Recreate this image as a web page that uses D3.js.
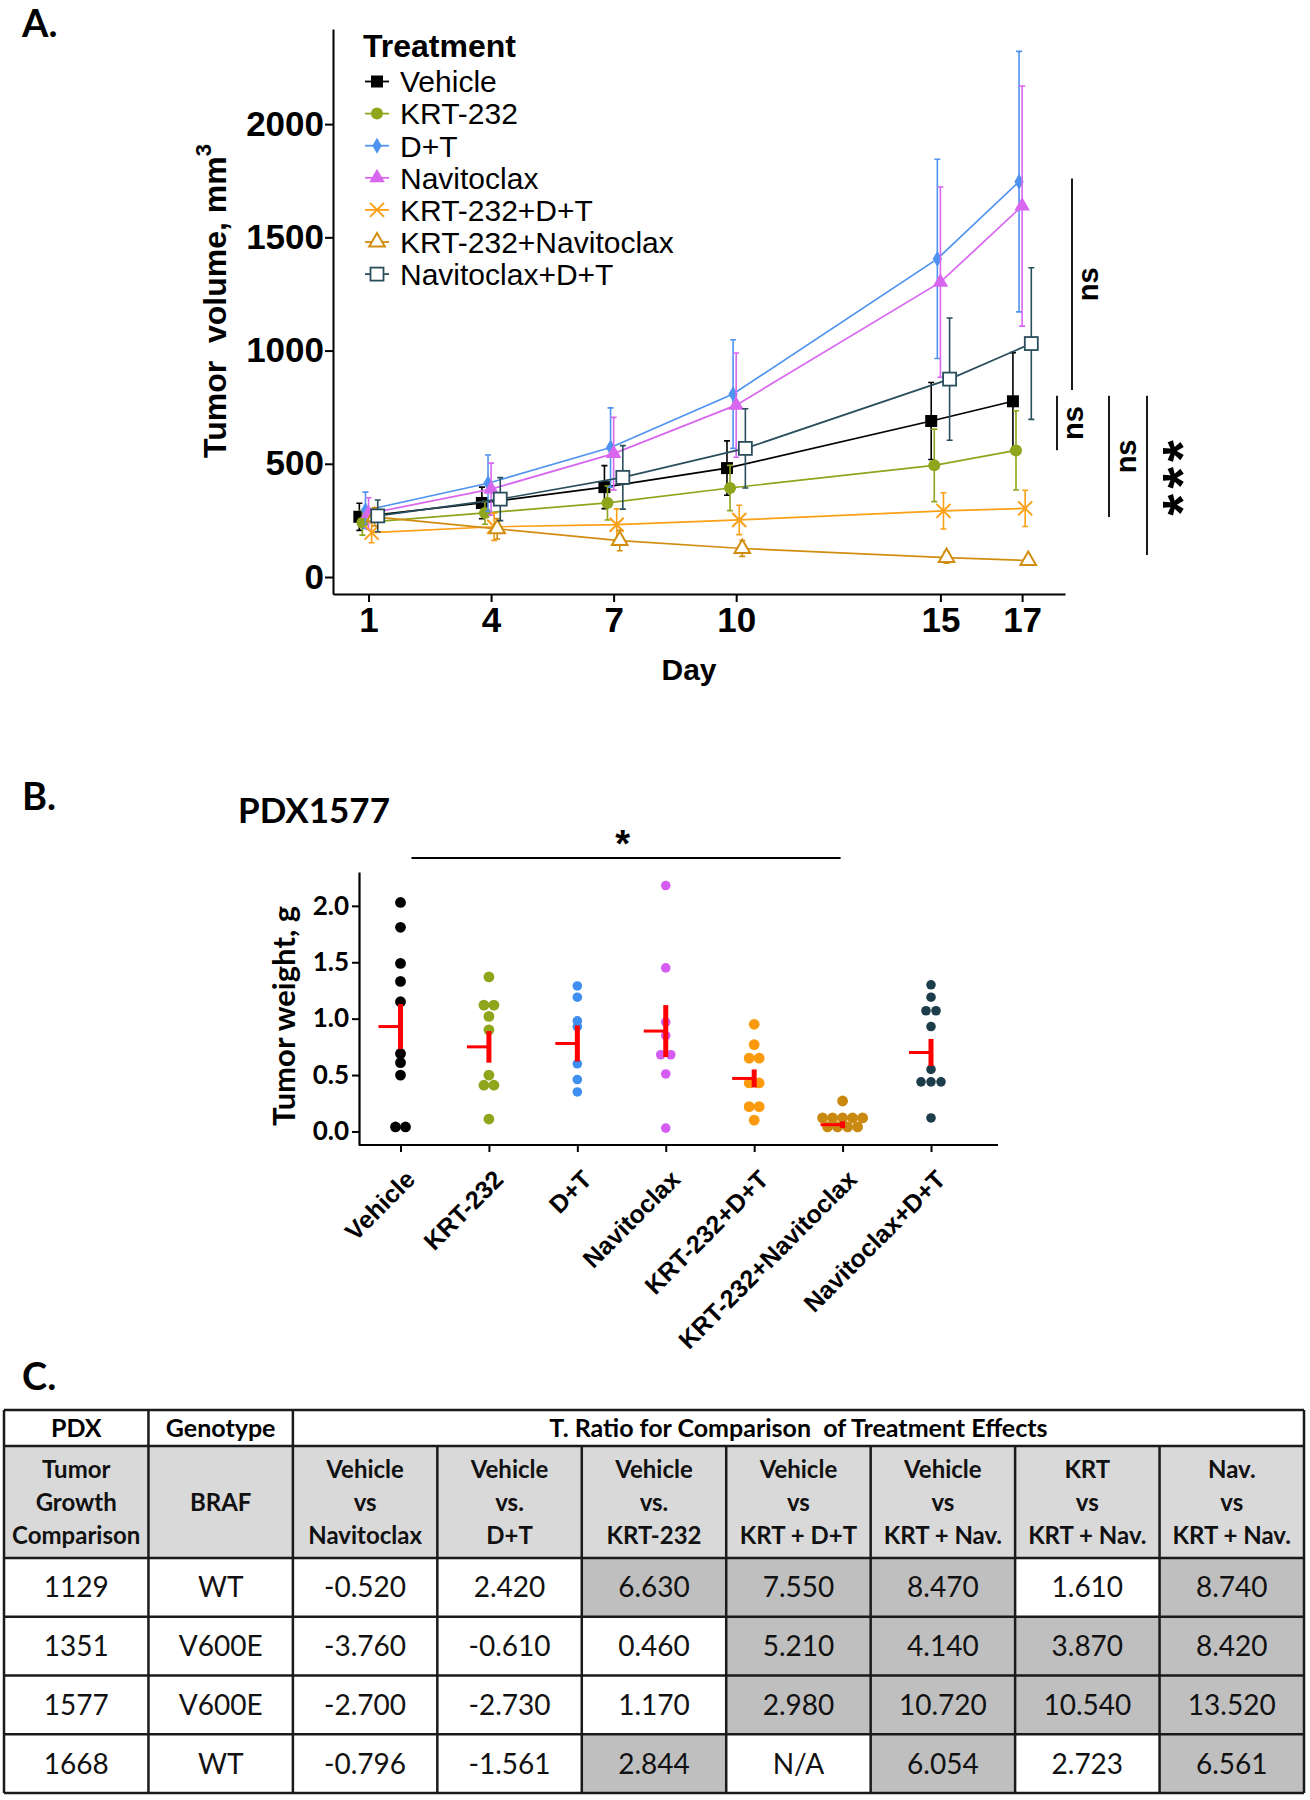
<!DOCTYPE html>
<html>
<head>
<meta charset="utf-8">
<script src="https://cdn.jsdelivr.net/npm/d3@7"></script>
<style>
  body { margin: 0; background: #fff; }
</style>
</head>
<body>
<div id="chart"></div>
<script>
const width = 1310;
const height = 1800;

// ---------- Panel A data: tumor volume (mm3) by day ----------
const days = [1, 4, 7, 10, 15, 17];
const treatments = ["Vehicle", "KRT-232", "D+T", "Navitoclax", "KRT-232+D+T", "KRT-232+Navitoclax", "Navitoclax+D+T"];
const treatmentColors = ["#000000", "#8ea51c", "#4f93f0", "#d866ef", "#fb9f16", "#d18d10", "#2a4e5c"];
const treatmentShapes = ["square", "circle", "diamond", "triangle", "cross", "triangleOpen", "squareOpen"];

const vehicleVol = [266, 327, 397, 481, 689, 776];
const krtVol     = [240, 283, 327, 393, 493, 559];
const dtVol      = [295, 414, 572, 808, 1405, 1746];
const navVol     = [280, 388, 545, 759, 1302, 1638];
const krtDtVol   = [196, 222, 231, 252, 292, 303];
const krtNavVol  = [266, 213, 161, 126, 86, 73];
const navDtVol   = [270, 344, 440, 568, 874, 1031];

const vehicleSE = [60, 70, 95, 120, 170, 215];
const krtSE     = [55, 50, 75, 100, 160, 175];
const dtSE      = [80, 125, 175, 240, 440, 575];
const navSE     = [70, 115, 160, 230, 420, 530];
const krtDtSE   = [45, 60, 70, 65, 80, 80];
const krtNavSE  = [40, 45, 45, 35, 25, 18];
const navDtSE   = [70, 95, 140, 175, 270, 335];

const volumeMeans = [vehicleVol, krtVol, dtVol, navVol, krtDtVol, krtNavVol, navDtVol];
const volumeSE = [vehicleSE, krtSE, dtSE, navSE, krtDtSE, krtNavSE, navDtSE];

const volumeTicks = [0, 500, 1000, 1500, 2000];

// significance brackets at day 17 (value ranges, mm3)
const bracketTop = [1760, 800, 800, 800];
const bracketBottom = [826, 560, 265, 97];
const bracketLabels = ["ns", "ns", "ns", "***"];

// ---------- Panel B data: tumor weight (g), PDX1577 ----------
const vehicleWt = [2.03, 1.81, 1.49, 1.33, 1.15, 0.69, 0.61, 0.50, 0.04, 0.04];
const krtWt     = [1.37, 1.12, 1.12, 1.02, 0.90, 0.50, 0.41, 0.41, 0.11];
const dtWt      = [1.29, 1.19, 0.98, 0.93, 0.60, 0.46, 0.35];
const navWt     = [2.18, 1.45, 0.97, 0.85, 0.68, 0.68, 0.51, 0.03];
const krtDtWt   = [0.95, 0.77, 0.65, 0.65, 0.43, 0.43, 0.22, 0.22, 0.10];
const krtNavWt  = [0.27, 0.12, 0.12, 0.12, 0.12, 0.12, 0.04, 0.04, 0.04, 0.04];
const navDtWt   = [1.30, 1.19, 1.07, 1.07, 0.93, 0.55, 0.44, 0.44, 0.44, 0.12];
const weightPoints = [vehicleWt, krtWt, dtWt, navWt, krtDtWt, krtNavWt, navDtWt];
const weightMean = [0.93, 0.75, 0.78, 0.89, 0.47, 0.06, 0.70];
const weightSE   = [0.20, 0.14, 0.16, 0.23, 0.08, 0.03, 0.12];
const weightColors = ["#000000", "#8ea51c", "#3f8ff2", "#d45cf2", "#fb9a0c", "#c9880f", "#1d3d4b"];
const weightTicks = [0, 0.5, 1.0, 1.5, 2.0];

// ---------- Panel C data: T ratio table ----------
const pdxIds = ["1129", "1351", "1577", "1668"];
const genotypes = ["WT", "V600E", "V600E", "WT"];
const headerLines = [
  ["Tumor", "Growth", "Comparison"],
  ["BRAF"],
  ["Vehicle", "vs", "Navitoclax"],
  ["Vehicle", "vs.", "D+T"],
  ["Vehicle", "vs.", "KRT-232"],
  ["Vehicle", "vs", "KRT + D+T"],
  ["Vehicle", "vs", "KRT + Nav."],
  ["KRT", "vs", "KRT + Nav."],
  ["Nav.", "vs", "KRT + Nav."]
];
const tRatios = [
  [-0.520, 2.420, 6.630, 7.550, 8.470, 1.610, 8.740],
  [-3.760, -0.610, 0.460, 5.210, 4.140, 3.870, 8.420],
  [-2.700, -2.730, 1.170, 2.980, 10.720, 10.540, 13.520],
  [-0.796, -1.561, 2.844, null, 6.054, 2.723, 6.561]
];
const significant = [
  [0, 0, 1, 1, 1, 0, 1],
  [0, 0, 0, 1, 1, 1, 1],
  [0, 0, 0, 1, 1, 1, 1],
  [0, 0, 1, 0, 1, 0, 1]
];

const sans = "'Liberation Sans', Arial, sans-serif";
const calibriLike = "Lato, 'Noto Sans', sans-serif";

const svg = d3.select("#chart")
    .append("svg")
    .attr("width", width)
    .attr("height", height)
    .style("font-family", sans);

svg.append("rect")
    .attr("width", width)
    .attr("height", height)
    .attr("fill", "#fff");

// draw one of the ggplot-like markers at the origin of g
function addMarker(g, shape, color) {
    if (shape === "square") {
        g.append("rect").attr("x", -6).attr("y", -6).attr("width", 12).attr("height", 12).attr("fill", color);
    } else if (shape === "circle") {
        g.append("circle").attr("r", 6).attr("fill", color);
    } else if (shape === "diamond") {
        g.append("path").attr("d", d3.symbol(d3.symbolDiamond, 75)()).attr("fill", color);
    } else if (shape === "triangle") {
        g.append("path").attr("d", d3.symbol(d3.symbolTriangle, 105)()).attr("fill", color);
    } else if (shape === "cross") {
        g.append("path").attr("d", "M-7,-7L7,7M-7,7L7,-7").attr("stroke", color).attr("stroke-width", 2).attr("fill", "none");
    } else if (shape === "triangleOpen") {
        g.append("path").attr("d", d3.symbol(d3.symbolTriangle, 105)()).attr("fill", "#fff").attr("stroke", color).attr("stroke-width", 2);
    } else if (shape === "squareOpen") {
        g.append("rect").attr("x", -6.5).attr("y", -6.5).attr("width", 13).attr("height", 13).attr("fill", "#fff").attr("stroke", color).attr("stroke-width", 1.8);
    }
}

// =================== Panel A ===================
svg.append("text").attr("x", 22).attr("y", 37)
    .attr("font-size", 38).attr("font-weight", "bold").attr("font-family", calibriLike)
    .text("A.");

const xA = d3.scaleLinear().domain([0.13, 18.05]).range([333, 1065]);
const yA = d3.scaleLinear().domain([-75, 2420]).range([594, 29]);

const axA = svg.append("g").attr("transform", "translate(0,594)")
    .call(d3.axisBottom(xA).tickValues(days).tickFormat(d3.format("d")).tickSize(8).tickSizeOuter(0).tickPadding(5));
const ayA = svg.append("g").attr("transform", "translate(333,0)")
    .call(d3.axisLeft(yA).tickValues(volumeTicks).tickFormat(d3.format("d")).tickSize(8).tickSizeOuter(0).tickPadding(1));
[axA, ayA].forEach(ax => {
    ax.select(".domain").attr("stroke", "#000").attr("stroke-width", 2);
    ax.selectAll(".tick line").attr("stroke", "#000").attr("stroke-width", 2);
    ax.selectAll(".tick text").attr("font-size", 35).attr("font-weight", "bold").attr("font-family", sans).attr("fill", "#000");
});

svg.append("text")
    .attr("transform", "translate(215,301) rotate(-90)")
    .attr("text-anchor", "middle").attr("dy", "0.35em")
    .attr("font-size", 32).attr("font-weight", "bold")
    .text("Tumor\u00a0 volume, mm")
    .append("tspan").attr("dy", -15).attr("font-size", 22).text("3");

svg.append("text").attr("x", 689).attr("y", 680)
    .attr("text-anchor", "middle").attr("font-size", 30).attr("font-weight", "bold")
    .text("Day");

const dodge = 0.075;
const lineA = d3.line().x(d => d.x).y(d => d.y);

treatments.forEach((name, i) => {
    const off = (i - 3) * dodge;
    const pts = days.map((day, j) => ({
        x: xA(day + off),
        y: yA(volumeMeans[i][j]),
        hi: yA(volumeMeans[i][j] + volumeSE[i][j]),
        lo: yA(volumeMeans[i][j] - volumeSE[i][j])
    }));
    const g = svg.append("g");
    g.append("path").attr("d", lineA(pts))
        .attr("fill", "none").attr("stroke", treatmentColors[i]).attr("stroke-width", 1.7);
    pts.forEach(p => {
        g.append("path")
            .attr("d", `M${p.x},${p.hi}V${p.lo}M${p.x - 3},${p.hi}H${p.x + 3}M${p.x - 3},${p.lo}H${p.x + 3}`)
            .attr("stroke", treatmentColors[i]).attr("stroke-width", 1.6).attr("fill", "none");
    });
    pts.forEach(p => {
        addMarker(g.append("g").attr("transform", `translate(${p.x},${p.y})`), treatmentShapes[i], treatmentColors[i]);
    });
});

// significance brackets
const bracketX = [1072, 1057, 1109, 1147];
const bracketLabelX = [1089, 1074, 1127, 1166];
bracketLabels.forEach((lab, i) => {
    svg.append("line")
        .attr("x1", bracketX[i]).attr("x2", bracketX[i])
        .attr("y1", yA(bracketTop[i])).attr("y2", yA(bracketBottom[i]))
        .attr("stroke", "#000").attr("stroke-width", 1.8);
    const cy = (yA(bracketTop[i]) + yA(bracketBottom[i])) / 2;
    svg.append("text")
        .attr("transform", `translate(${bracketLabelX[i]},${cy}) rotate(-90)`)
        .attr("text-anchor", "middle")
        .attr("dy", lab === "ns" ? "0.3em" : "0.62em")
        .attr("letter-spacing", lab === "ns" ? 0 : 5)
        .attr("font-size", lab === "ns" ? 29 : 56).attr("font-weight", "bold")
        .text(lab);
});

// legend
const legA = svg.append("g");
legA.append("text").attr("x", 363).attr("y", 57)
    .attr("font-size", 32).attr("font-weight", "bold").text("Treatment");
treatments.forEach((name, i) => {
    const cy = 81.5 + i * 32.1;
    legA.append("line").attr("x1", 365).attr("x2", 389).attr("y1", cy).attr("y2", cy)
        .attr("stroke", treatmentColors[i]).attr("stroke-width", 1.8);
    addMarker(legA.append("g").attr("transform", `translate(377,${cy})`), treatmentShapes[i], treatmentColors[i]);
    legA.append("text").attr("x", 400).attr("y", cy).attr("dy", "0.36em")
        .attr("font-size", 30).text(name);
});

// =================== Panel B ===================
svg.append("text").attr("x", 22).attr("y", 810)
    .attr("font-size", 38).attr("font-weight", "bold").attr("font-family", calibriLike)
    .text("B.");
svg.append("text").attr("x", 238).attr("y", 823)
    .attr("font-size", 35).attr("font-weight", "bold").attr("font-family", calibriLike)
    .text("PDX1577");

const xB = d3.scalePoint().domain(treatments).range([400.5, 931]);
const yB = d3.scaleLinear().domain([-0.12, 2.3]).range([1145, 872]);

const axB = svg.append("g").attr("transform", "translate(0,1145)")
    .call(d3.axisBottom(xB).tickSize(7).tickSizeOuter(0).tickFormat(""));
axB.select(".domain").remove();
axB.selectAll(".tick line").attr("stroke", "#000").attr("stroke-width", 2);
svg.append("line").attr("x1", 359).attr("x2", 998).attr("y1", 1145).attr("y2", 1145)
    .attr("stroke", "#000").attr("stroke-width", 2.2);

const ayB = svg.append("g").attr("transform", "translate(359,0)")
    .call(d3.axisLeft(yB).tickValues(weightTicks).tickFormat(d3.format(".1f")).tickSize(7).tickSizeOuter(0).tickPadding(3));
ayB.select(".domain").attr("stroke", "#000").attr("stroke-width", 2.2);
ayB.selectAll(".tick line").attr("stroke", "#000").attr("stroke-width", 2);
ayB.selectAll(".tick text").attr("font-size", 26).attr("font-weight", "bold").attr("font-family", calibriLike).attr("fill", "#000");

svg.append("text")
    .attr("transform", "translate(284,1016) rotate(-90)")
    .attr("text-anchor", "middle").attr("dy", "0.35em")
    .attr("font-size", 31).attr("font-weight", "bold").attr("font-family", calibriLike)
    .text("Tumor weight, g");

svg.append("g").selectAll("text")
    .data(treatments)
    .enter()
    .append("text")
    .attr("transform", d => `translate(${xB(d) + 16},1181) rotate(-45)`)
    .attr("text-anchor", "end")
    .attr("font-size", 25).attr("font-weight", "bold")
    .text(d => d);

// points, ties spread sideways
weightPoints.forEach((vals, i) => {
    const counts = d3.rollup(vals, v => v.length, v => v);
    const seen = new Map();
    const cx = xB(treatments[i]);
    const r = (i === 2 || i === 3 || i === 6) ? 4.8 : 5.4;
    vals.forEach(v => {
        const n = counts.get(v);
        const k = seen.get(v) || 0;
        seen.set(v, k + 1);
        svg.append("circle")
            .attr("cx", cx + (k - (n - 1) / 2) * 10)
            .attr("cy", yB(v))
            .attr("r", r)
            .attr("fill", weightColors[i]);
    });
    const mg = svg.append("g");
    mg.append("line").attr("x1", cx - 22).attr("x2", cx).attr("y1", yB(weightMean[i])).attr("y2", yB(weightMean[i]))
        .attr("stroke", "#ff0000").attr("stroke-width", 3);
    mg.append("line").attr("x1", cx).attr("x2", cx)
        .attr("y1", yB(weightMean[i] + weightSE[i])).attr("y2", yB(weightMean[i] - weightSE[i]))
        .attr("stroke", "#ff0000").attr("stroke-width", 5);
});

// significance bar Vehicle vs KRT-232+Navitoclax
svg.append("line").attr("x1", xB("Vehicle") + 11).attr("x2", xB("KRT-232+Navitoclax") - 2)
    .attr("y1", 858).attr("y2", 858).attr("stroke", "#000").attr("stroke-width", 2);
svg.append("text").attr("x", (xB("Vehicle") + xB("KRT-232+Navitoclax")) / 2 + 1).attr("y", 857)
    .attr("text-anchor", "middle").attr("font-size", 38).attr("font-weight", "bold")
    .text("*");

// =================== Panel C ===================
svg.append("text").attr("x", 22).attr("y", 1390)
    .attr("font-size", 38).attr("font-weight", "bold").attr("font-family", calibriLike)
    .text("C.");

const colX = d3.scaleBand().domain(d3.range(9)).range([4, 1304]);
const rowY = d3.scaleBand().domain(pdxIds).range([1558, 1793]);
const headTop = 1410, headMid = 1446, headBottom = 1558;
const tbl = svg.append("g").attr("font-family", calibriLike);
const fmt = v => d3.format(".3f")(v).replace("\u2212", "-");

// header row 2 background
tbl.append("rect").attr("x", colX(0)).attr("y", headMid)
    .attr("width", colX.bandwidth() * 9).attr("height", headBottom - headMid).attr("fill", "#d9d9d9");

// data cells
pdxIds.forEach((id, r) => {
    const cells = [id, genotypes[r]].concat(tRatios[r].map(v => v === null ? "N/A" : fmt(v)));
    cells.forEach((txt, c) => {
        const hi = c >= 2 && significant[r][c - 2] === 1;
        tbl.append("rect").attr("x", colX(c)).attr("y", rowY(id))
            .attr("width", colX.bandwidth()).attr("height", rowY.bandwidth())
            .attr("fill", hi ? "#bfbfbf" : "#fff");
        tbl.append("text").attr("x", colX(c) + colX.bandwidth() / 2).attr("y", rowY(id) + rowY.bandwidth() / 2)
            .attr("dy", "0.36em").attr("text-anchor", "middle")
            .attr("font-size", 28).attr("fill", "#111")
            .text(txt);
    });
});

// header texts
const headFont = 25;
tbl.append("text").attr("x", colX(0) + colX.bandwidth() / 2).attr("y", (headTop + headMid) / 2)
    .attr("dy", "0.36em").attr("text-anchor", "middle").attr("font-size", headFont).attr("font-weight", "bold").text("PDX");
tbl.append("text").attr("x", colX(1) + colX.bandwidth() / 2).attr("y", (headTop + headMid) / 2)
    .attr("dy", "0.36em").attr("text-anchor", "middle").attr("font-size", headFont).attr("font-weight", "bold").text("Genotype");
tbl.append("text").attr("x", (colX(2) + colX(8) + colX.bandwidth()) / 2).attr("y", (headTop + headMid) / 2)
    .attr("dy", "0.36em").attr("text-anchor", "middle").attr("font-size", headFont).attr("font-weight", "bold")
    .text("T. Ratio for Comparison\u00a0 of Treatment Effects");
headerLines.forEach((lines, c) => {
    const mid = (headMid + headBottom) / 2;
    lines.forEach((t, k) => {
        tbl.append("text").attr("x", colX(c) + colX.bandwidth() / 2)
            .attr("y", mid + (k - (lines.length - 1) / 2) * 33)
            .attr("dy", "0.36em").attr("text-anchor", "middle")
            .attr("font-size", 24).attr("font-weight", "bold").attr("fill", "#111")
            .text(t);
    });
});

// grid lines
const hLines = [headTop, headMid, headBottom].concat(pdxIds.map(id => rowY(id) + rowY.bandwidth()));
hLines.forEach(yv => {
    tbl.append("line").attr("x1", colX(0)).attr("x2", colX(8) + colX.bandwidth())
        .attr("y1", yv).attr("y2", yv).attr("stroke", "#1a1a1a").attr("stroke-width", 2.5);
});
d3.range(10).forEach(c => {
    const xv = c < 9 ? colX(c) : colX(8) + colX.bandwidth();
    const top = (c >= 3 && c <= 8) ? headMid : headTop;
    tbl.append("line").attr("x1", xv).attr("x2", xv).attr("y1", top).attr("y2", hLines[hLines.length - 1])
        .attr("stroke", "#1a1a1a").attr("stroke-width", 2.5);
});
</script>
</body>
</html>
